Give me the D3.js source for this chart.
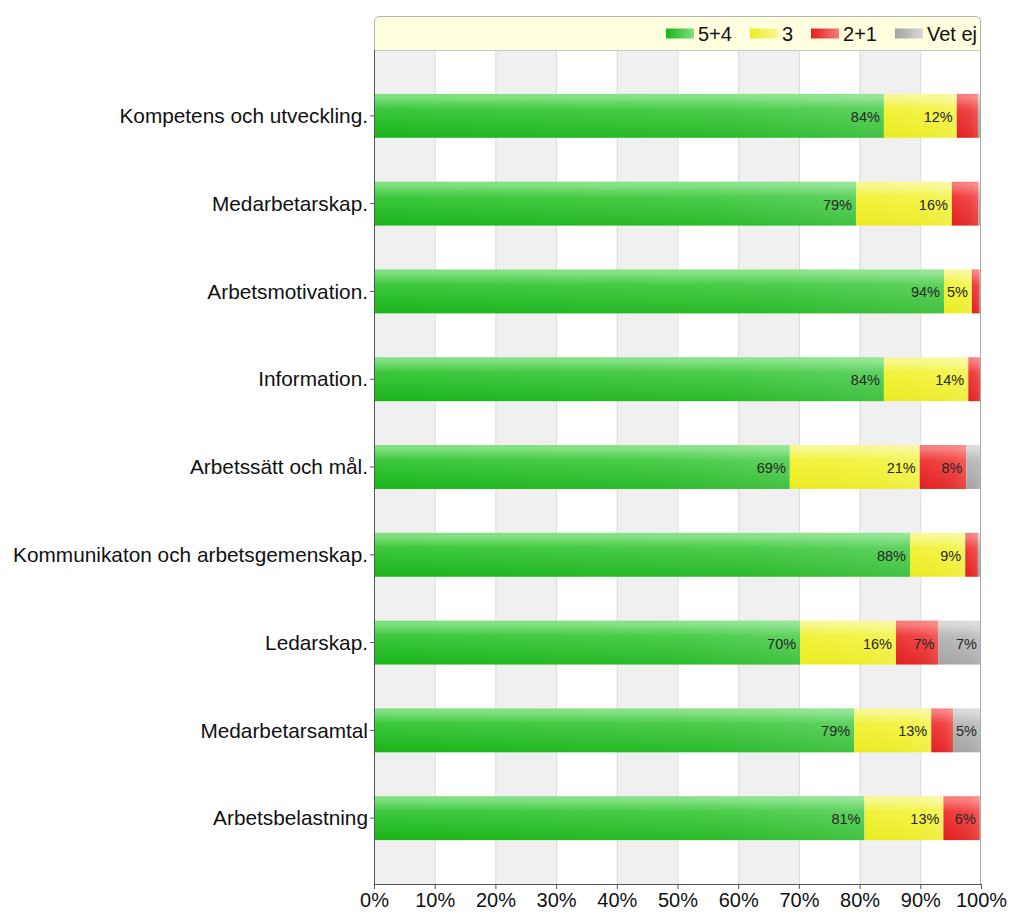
<!DOCTYPE html>
<html><head><meta charset="utf-8">
<script src="https://cdn.jsdelivr.net/npm/d3@7"></script>
<style>body{margin:0;background:#fff}svg{display:block}text{font-family:Arial,"Liberation Sans",sans-serif}</style>
</head><body>
<svg id="chart" width="1024" height="924"></svg>
<script>
const categories = ["Kompetens och utveckling.","Medarbetarskap.","Arbetsmotivation.","Information.","Arbetssätt och mål.","Kommunikaton och arbetsgemenskap.","Ledarskap.","Medarbetarsamtal","Arbetsbelastning"];
const seriesNames = ["5+4","3","2+1","Vet ej"];
const s54   = [84.0, 79.4, 93.9, 84.0, 68.5, 88.3, 70.2, 79.1, 80.8];
const s3    = [12.0, 15.8, 4.6, 13.9, 21.4, 9.1, 15.8, 12.7, 13.0];
const s21   = [3.5, 4.4, 1.3, 2.0, 7.7, 2.1, 7.0, 3.6, 6.0];
const sVet  = [0.5, 0.4, 0.2, 0.1, 2.4, 0.5, 7.0, 4.6, 0.2];
const xTicks = [0,10,20,30,40,50,60,70,80,90,100];
const colors = [
  {top:"#7ee07e", mid:"#3cc83c", bot:"#1ab41a"},
  {top:"#f8f890", mid:"#f2f23c", bot:"#ecec22"},
  {top:"#f87a7a", mid:"#ef3a3a", bot:"#e21e1e"},
  {top:"#d8d8d8", mid:"#b8b8b8", bot:"#a2a2a2"}
];

const svg = d3.select("#chart");
const L = 374, R = 981, T = 50, B = 884;
const x = d3.scaleLinear().domain([0,100]).range([L,R]);
const y = d3.scaleBand().domain(categories).range([T,B]).paddingInner(0.5).paddingOuter(0.5);

const defs = svg.append("defs");
colors.forEach((c,i)=>{
  const g = defs.append("linearGradient").attr("id","g"+i).attr("x1",0).attr("y1",0).attr("x2",0).attr("y2",1);
  g.append("stop").attr("offset","0").attr("stop-color",c.top);
  g.append("stop").attr("offset","0.08").attr("stop-color",c.top);
  g.append("stop").attr("offset","0.35").attr("stop-color",c.mid);
  g.append("stop").attr("offset","1").attr("stop-color",c.bot);
  const h = defs.append("linearGradient").attr("id","h"+i).attr("x1",0).attr("y1",0).attr("x2",1).attr("y2",0);
  h.append("stop").attr("offset","0").attr("stop-color",c.bot);
  h.append("stop").attr("offset","1").attr("stop-color",c.top);
});
const shine = defs.append("linearGradient").attr("id","shine").attr("x1",0).attr("y1",0).attr("x2",1).attr("y2",0);
shine.append("stop").attr("offset","0").attr("stop-color","#fff").attr("stop-opacity",0);
shine.append("stop").attr("offset","0.7").attr("stop-color","#fff").attr("stop-opacity",0.08);
shine.append("stop").attr("offset","1").attr("stop-color","#fff").attr("stop-opacity",0.18);

// stripes
svg.append("g").selectAll("rect").data(xTicks.slice(0,-1)).join("rect")
  .attr("x",d=>x(d)).attr("y",T).attr("width",d=>x(d+10)-x(d)).attr("height",B-T)
  .attr("fill",(d,i)=>i%2===0?"#f0f0f0":"#ffffff");
svg.append("g").selectAll("line").data(xTicks.slice(1,-1)).join("line")
  .attr("x1",d=>x(d)+0.5).attr("x2",d=>x(d)+0.5).attr("y1",T).attr("y2",B)
  .attr("stroke","#d9d9d9").attr("stroke-width",1);

// legend box
const lt = 16, lb = 50, rr = 6;
svg.append("path")
  .attr("d",`M${L+0.5},${lb} L${L+0.5},${lt+rr} Q${L+0.5},${lt+0.5} ${L+rr},${lt+0.5} L${R-rr},${lt+0.5} Q${R-0.5},${lt+0.5} ${R-0.5},${lt+rr} L${R-0.5},${lb}`)
  .attr("fill","#ffffdf").attr("stroke","#b4b4b4");
svg.append("line").attr("x1",L).attr("x2",R).attr("y1",lb+0.5).attr("y2",lb+0.5).attr("stroke","#c8c8c8");

// stacked bars
const series = [s54,s3,s21,sVet];
const data = categories.map((c,i)=>{
  let acc=0; return series.map((s,k)=>{const v=s[i]; const o={cat:c,k,v,x0:acc,x1:acc+v}; acc+=v; return o;});
});
const rows = svg.append("g").selectAll("g").data(data).join("g");
rows.selectAll("rect.seg").data(d=>d).join("rect").attr("class","seg")
  .attr("x",d=>x(d.x0)).attr("y",d=>y(d.cat)).attr("width",d=>x(d.x1)-x(d.x0)).attr("height",y.bandwidth())
  .attr("fill",d=>`url(#g${d.k})`);
rows.selectAll("rect.sh").data(d=>d).join("rect").attr("class","sh")
  .attr("x",d=>x(d.x0)).attr("y",d=>y(d.cat)).attr("width",d=>x(d.x1)-x(d.x0)).attr("height",y.bandwidth())
  .attr("fill","url(#shine)");
rows.selectAll("text").data(d=>d.filter(s=>Math.round(s.v)>=5)).join("text")
  .attr("x",d=>x(d.x1)-4).attr("y",d=>y(d.cat)+y.bandwidth()/2+6)
  .attr("text-anchor","end").attr("font-size",14.5).attr("fill","#262626")
  .text(d=>Math.round(d.v)+"%");

// right border
svg.append("line").attr("x1",R-0.5).attr("x2",R-0.5).attr("y1",lb).attr("y2",B).attr("stroke","#a8a8a8");

// axes
const xAxis = d3.axisBottom(x).tickValues(xTicks).tickFormat(d=>d+"%").tickSize(5).tickSizeOuter(0);
const gx = svg.append("g").attr("transform",`translate(0,${B})`).call(xAxis);
gx.select(".domain").attr("stroke","#555");
gx.selectAll(".tick line").attr("stroke","#555");
gx.selectAll(".tick text").attr("font-size",20).attr("fill","#111").attr("dy","0.95em").attr("y",4)
  .style("font-family","Arial, 'Liberation Sans', sans-serif");

const yAxis = d3.axisLeft(y).tickSize(4).tickSizeOuter(0).tickPadding(2);
const gy = svg.append("g").attr("transform",`translate(${L},0)`).call(yAxis);
gy.select(".domain").attr("stroke","#555").attr("d",`M0.5,${lb}V${B}`);
gy.selectAll(".tick line").attr("stroke","#555");
gy.selectAll(".tick text").attr("font-size",20.8).attr("fill","#111").attr("dy","0.35em").attr("x",-6)
  .style("font-family","Arial, 'Liberation Sans', sans-serif");

// legend items (right aligned)
const lg = svg.append("g");
const items = seriesNames.map((n,i)=>({n,i}));
const tmp = lg.append("text").attr("font-size",20);
const widths = items.map(d=>{tmp.text(d.n); return tmp.node().getComputedTextLength();});
tmp.remove();
const sw = 28, gap = 4, between = 18;
let total = items.reduce((a,d,i)=>a+sw+gap+widths[i],0)+between*(items.length-1);
let cx = 977 - total;
items.forEach((d,i)=>{
  lg.append("rect").attr("x",cx).attr("y",28.5).attr("width",sw).attr("height",10).attr("fill",`url(#h${i})`);
  lg.append("text").attr("x",cx+sw+gap).attr("y",40.5).attr("font-size",20).attr("fill","#111").text(d.n);
  cx += sw+gap+widths[i]+between;
});
</script>
</body></html>
